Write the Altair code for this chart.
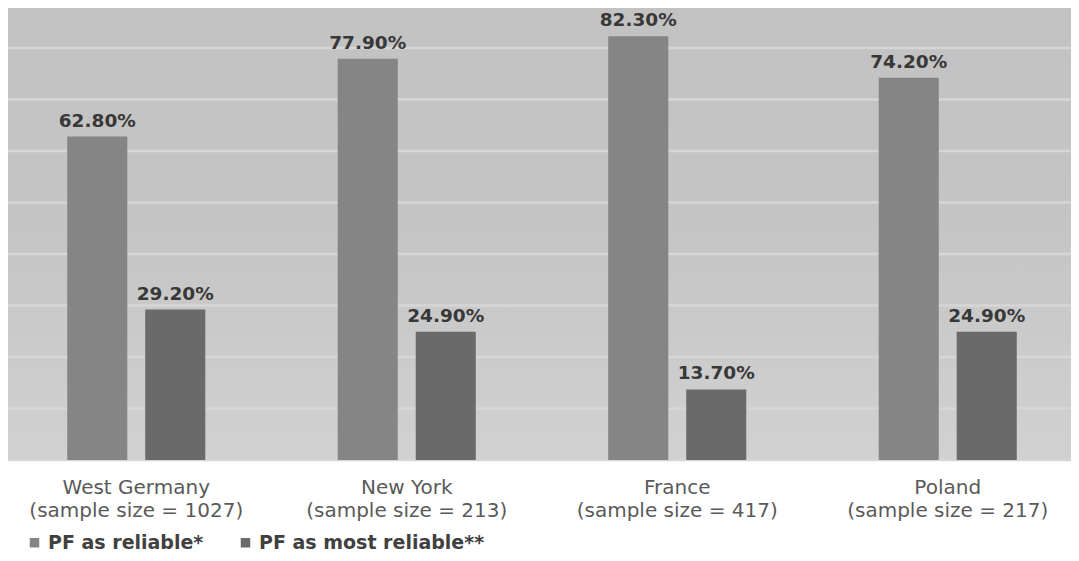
import altair as alt
import pandas as pd

regions = [
    "West Germany|(sample size = 1027)",
    "New York|(sample size = 213)",
    "France|(sample size = 417)",
    "Poland|(sample size = 217)",
]
series = ["PF as reliable*", "PF as most reliable**"]
reliable = [62.8, 77.9, 82.3, 74.2]
most_reliable = [29.2, 24.9, 13.7, 24.9]
grid_values = [0, 10, 20, 30, 40, 50, 60, 70, 80]

rows = []
for r, a, b in zip(regions, reliable, most_reliable):
    rows.append({"region": r, "series": series[0], "value": a, "label": f"{a:.2f}%"})
    rows.append({"region": r, "series": series[1], "value": b, "label": f"{b:.2f}%"})
df = pd.DataFrame(rows)

TOP = 6
W, H = 1063, 452 - TOP
FONT = "DejaVu Sans"

x_enc = alt.X("region:N", sort=regions,
              scale=alt.Scale(range=[-7, 1075], paddingInner=0.4233, paddingOuter=0.2117),
              axis=alt.Axis(title=None, domain=False, ticks=False, labelAngle=0,
                            labelExpr="split(datum.label, '|')", labelFontSize=20,
                            labelColor="#5a5a5a", labelFont=FONT, labelPadding=17,
                            labelLineHeight=23, labelBaseline="top", labelLimit=400))
xo_enc = alt.XOffset("series:N", sort=series,
                     scale=alt.Scale(paddingInner=0.23, paddingOuter=0.115))
y_scale = alt.Scale(domain=[0, 86.6], nice=False, zero=True)

bg = alt.Chart(pd.DataFrame({"a": [0]})).mark_rect(
    fill=alt.Gradient(gradient="linear", x1=0, x2=0, y1=0, y2=1,
                      stops=[alt.GradientStop(offset=0, color="#c2c2c2"),
                             alt.GradientStop(offset=0.5, color="#c5c5c5"),
                             alt.GradientStop(offset=1, color="#d1d1d1")])
).encode(x=alt.value(0), x2=alt.value(W), y=alt.value(-TOP), y2=alt.value(H))

grid = alt.Chart(pd.DataFrame({"g": grid_values})).mark_rule(
    color="#d6d6d6", strokeWidth=2.5
).encode(y=alt.Y("g:Q", scale=y_scale, axis=None))

bars = alt.Chart(df).mark_bar().encode(
    x=x_enc,
    xOffset=xo_enc,
    y=alt.Y("value:Q", scale=y_scale, axis=None),
    color=alt.Color("series:N", sort=series,
                    scale=alt.Scale(domain=series, range=["#858585", "#6a6a6a"]),
                    legend=alt.Legend(title=None, orient="none", legendX=17, legendY=519,
                                      direction="horizontal", symbolType="square",
                                      symbolSize=90, labelFontSize=19, labelFont=FONT,
                                      labelFontWeight="bold", labelColor="#404040",
                                      labelOffset=4, columnPadding=32, labelLimit=400,
                                      symbolStrokeWidth=0)),
)

labels = alt.Chart(df).mark_text(
    font=FONT, fontSize=18.5, fontWeight="bold", color="#383838",
    baseline="alphabetic", dy=-10
).encode(
    x=x_enc,
    xOffset=xo_enc,
    y=alt.Y("value:Q", scale=y_scale, axis=None),
    text="label:N",
)

chart = alt.layer(bg, grid, bars, labels).properties(
    width=W, height=H,
    autosize=alt.AutoSizeParams(type="none"),
    padding={"left": 0, "top": TOP, "right": 0, "bottom": 93},
).configure_view(stroke=None)

chart.save("out.html", embed_options={"renderer": "svg", "actions": False})
